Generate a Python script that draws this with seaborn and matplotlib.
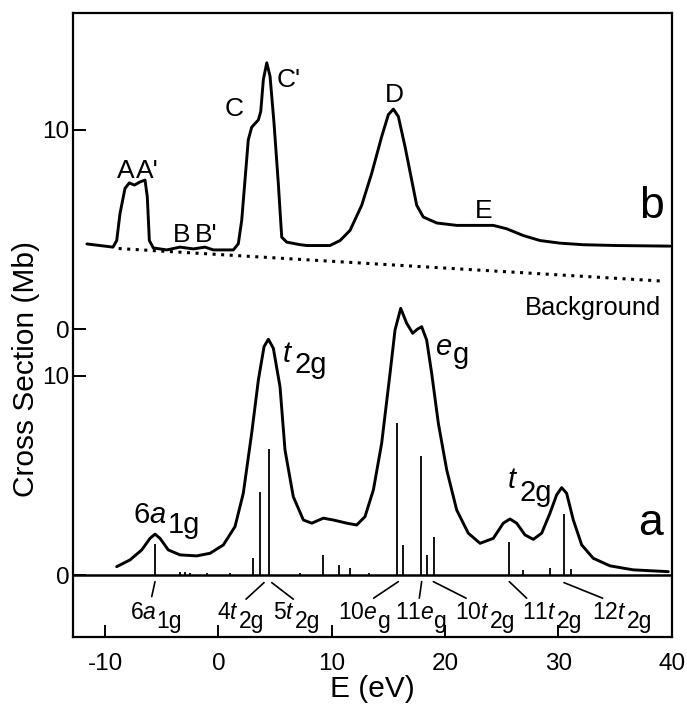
import numpy as np
import pandas as pd
import seaborn as sns
import matplotlib.pyplot as plt

# spectrum b (measured, Mb) -- drawn shifted up by B_OFFSET
b_energy = [-11.6, -9.3, -8.97, -8.68, -8.24, -7.86, -7.41, -6.91, -6.47, -6.27,
            -6.09, -5.74, -4.56, -3.38, -2.21, -1.18, -0.44, 1.32, 1.76, 2.06,
            2.35, 2.64, 2.94, 3.53, 3.74, 3.97, 4.27, 4.56, 4.91, 5.29,
            5.59, 6.03, 7.14, 7.8, 9.85, 10.74, 11.62, 12.65, 13.53, 14.41,
            15.0, 15.44, 15.88, 16.47, 17.06, 17.5, 18.08, 19.27, 21.03, 23.09,
            24.26, 25.44, 26.91, 28.38, 30.14, 32.2, 35.15, 39.85]
b_cross = [4.28, 4.12, 4.45, 5.8, 7.06, 7.34, 7.23, 7.39, 7.48, 6.64,
           4.45, 4.08, 3.98, 4.12, 4.03, 4.12, 3.98, 3.98, 4.29, 5.46,
           7.48, 9.5, 10.13, 10.5, 10.92, 12.52, 13.36, 12.69, 10.34, 7.31,
           4.62, 4.37, 4.25, 4.2, 4.2, 4.45, 4.96, 6.22, 7.82, 9.66,
           10.76, 11.04, 10.67, 9.16, 7.48, 6.22, 5.63, 5.33, 5.21, 5.21,
           5.21, 5.04, 4.7, 4.45, 4.32, 4.24, 4.2, 4.17]
bg_energy = [-8.8, 39.1]
bg_cross = [4.05, 2.42]

# spectrum a (calculated, Mb)
a_energy = [-8.97, -7.79, -6.76, -6.03, -5.59, -5.15, -4.42, -3.38, -1.91, -0.74,
            0.44, 1.47, 2.2, 2.94, 3.53, 4.03, 4.41, 4.85, 5.44, 5.88,
            6.61, 7.5, 8.24, 9.26, 10.14, 11.33, 12.21, 12.94, 13.68, 14.41,
            15.15, 15.59, 16.09, 16.62, 17.15, 17.55, 17.94, 18.38, 18.82, 19.41,
            20.15, 21.03, 22.05, 23.09, 24.26, 25.14, 25.73, 26.32, 27.06, 27.79,
            28.53, 29.26, 29.85, 30.29, 30.73, 31.32, 32.06, 33.08, 34.56, 36.61,
            39.7]
a_cross = [0.44, 0.78, 1.28, 1.86, 2.07, 1.86, 1.28, 1.03, 0.98, 1.11,
           1.53, 2.45, 4.12, 7.13, 9.8, 11.47, 11.84, 11.39, 9.46, 6.29,
           3.95, 2.78, 2.62, 2.87, 2.78, 2.62, 2.53, 2.95, 4.29, 6.63,
           10.14, 12.31, 13.39, 12.64, 12.14, 12.34, 12.47, 11.8, 10.14, 7.63,
           5.29, 3.28, 2.12, 1.61, 1.86, 2.62, 2.83, 2.62, 2.03, 1.81,
           2.12, 3.12, 4.04, 4.4, 4.12, 2.78, 1.53, 0.86, 0.48, 0.28,
           0.19]

# level sticks
stick_energy = [-5.59, -3.38, -2.94, -2.5, -1.03, 1.03, 3.02, 3.66, 4.48, 7.2,
                9.26, 10.67, 11.62, 13.32, 15.79, 16.26, 17.91, 18.44, 19.03, 25.67,
                26.91, 29.26, 30.5, 31.09]
stick_height = [1.58, 0.15, 0.18, 0.12, 0.12, 0.12, 0.86, 4.2, 6.33, 0.1,
                1.03, 0.53, 0.36, 0.1, 7.63, 1.53, 5.99, 1.03, 1.94, 1.67,
                0.25, 0.37, 3.07, 0.3]

x_ticks = [-10, 0, 10, 20, 30, 40]
B_OFFSET = 12.34
y_ticks = [0, 10, B_OFFSET, B_OFFSET + 10]
y_ticklabels = ["0", "10", "0", "10"]

# orbital labels under the axis: (left E, main, sub)
orbital_labels = [(-7.79, "6$a$", "1g"), (-0.14, "4$t$", "2g"), (4.82, "5$t$", "2g"),
                  (10.58, "10$e$", "g"), (15.59, "11$e$", "g"), (20.88, "10$t$", "2g"),
                  (26.79, "11$t$", "2g"), (32.97, "12$t$", "2g")]
leader_lines = [(-5.59, -0.31, -5.88, -1.06), (4.03, -0.36, 2.44, -1.19),
                (4.71, -0.36, 6.61, -1.19), (15.88, -0.31, 13.7, -1.14),
                (17.94, -0.31, 17.73, -1.14), (18.97, -0.31, 21.86, -1.14),
                (25.67, -0.31, 27.2, -1.14), (30.5, -0.36, 33.9, -1.14)]
b_letters = [(-8.97, 7.58, "A"), (-7.26, 7.58, "A'"), (-4.03, 4.4, "B"), (-2.06, 4.4, "B'"),
             (0.59, 10.67, "C"), (5.15, 12.17, "C'"), (14.7, 11.42, "D"), (22.65, 5.57, "E")]
# peak labels of spectrum a: (left E, baseline, main, sub, drop pt, gap pt)
a_peaks = [(-7.5, 2.62, "6$a$", "1g", 7, 0.5), (5.59, 10.72, "$t$", "2g", 8, 1),
           (19.12, 11.05, "$e$", "g", 6, 0.5), (25.44, 4.37, "$t$", "2g", 9.5, 1)]

sns.set_theme(style="white")
plt.rcParams['font.family'] = ['Liberation Sans', 'DejaVu Sans']
plt.rcParams['mathtext.fontset'] = 'custom'
plt.rcParams['mathtext.rm'] = 'Liberation Sans'
plt.rcParams['mathtext.it'] = 'Liberation Sans:italic'
plt.rcParams['text.color'] = 'black'
plt.rcParams['axes.labelcolor'] = 'black'

fig = plt.figure(figsize=(6.87, 7.08), dpi=100)
ax = fig.add_axes([0.1067, 0.0999, 0.8710, 0.8818])


def sub_label(x, y, main, sub, size, drop, gap):
    t = ax.text(x, y, main, fontsize=size, ha='left', va='baseline')
    ax.annotate(sub, xy=(1, 0), xycoords=t, xytext=(gap, -drop),
                textcoords='offset points', fontsize=size, ha='left', va='bottom')


b_df = pd.DataFrame({"E": b_energy, "cs": np.array(b_cross) + B_OFFSET})
a_df = pd.DataFrame({"E": a_energy, "cs": a_cross})
sns.lineplot(data=b_df, x="E", y="cs", ax=ax, color="black", lw=2.1,
             estimator=None, sort=False)
sns.lineplot(data=a_df, x="E", y="cs", ax=ax, color="black", lw=2.1,
             estimator=None, sort=False)
sns.lineplot(x=bg_energy, y=np.array(bg_cross) + B_OFFSET, ax=ax, color="black",
             lw=2.2, linestyle=(0, (1, 1.8)), estimator=None)

ax.vlines(stick_energy, 0, stick_height, color="black", lw=1.3)
ax.axhline(0, color="black", lw=1.8)

for x0, y0, x1, y1 in leader_lines:
    ax.plot([x0, x1], [y0, y1], color="black", lw=1.2)

for x, main, sub in orbital_labels:
    sub_label(x, -2.2, main, sub, 16.5, 6.5, 0)

for x, y, s in b_letters:
    ax.text(x, y + B_OFFSET, s, fontsize=19, ha='left', va='baseline')

for x, y, main, sub, drop, gap in a_peaks:
    sub_label(x, y, main, sub, 21, drop, gap)

ax.text(38.2, 5.57 + B_OFFSET, "b", fontsize=32, ha='center', va='baseline')
ax.text(38.15, 2.03, "a", fontsize=32, ha='center', va='baseline')
ax.text(39.1, 0.72 + B_OFFSET, "Background", fontsize=18.4, ha='right', va='baseline')

ax.set_xlim(-12.8, 40)
ax.set_ylim(-3.1, 28.2)
ax.set_xticks(x_ticks)
ax.set_xticklabels([str(v) for v in x_ticks])
ax.set_yticks(y_ticks)
ax.set_yticklabels(y_ticklabels)
ax.tick_params(axis='x', bottom=True, top=False, direction='in', length=8.5,
               width=1.4, pad=11, labelsize=17.5, colors='black')
ax.tick_params(axis='y', left=True, right=False, direction='in', length=9,
               width=1.4, pad=3, labelsize=17.5, colors='black')
for sp in ax.spines.values():
    sp.set_color("black")
    sp.set_linewidth(1.6)

ax.set_xlabel("E (eV)", fontsize=21.5, labelpad=0)
ax.set_ylabel("Cross Section (Mb)", fontsize=21.5)
ax.yaxis.set_label_coords(-0.055, 0.43)

fig.savefig("out.png", dpi=100)
